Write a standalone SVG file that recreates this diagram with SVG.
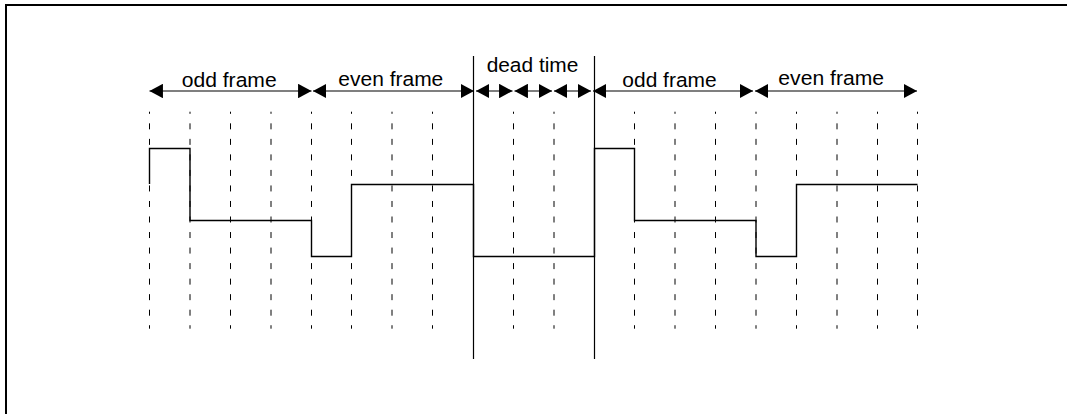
<svg xmlns="http://www.w3.org/2000/svg" width="1067" height="414" viewBox="0 0 1067 414">
<defs>
<marker id="ah" viewBox="0 0 13 14" refX="13" refY="7" markerWidth="13.5" markerHeight="14.5" markerUnits="userSpaceOnUse" orient="auto-start-reverse">
<path d="M0,0 L13,7 L0,14 Z" fill="#000"/>
</marker>
</defs>
<style>
.frame{fill:none;stroke:#000;stroke-width:2}
.grid{stroke:#000;stroke-width:1;stroke-dasharray:6 9.53;stroke-dashoffset:3.9}
.solid{stroke:#000;stroke-width:1.2}
.wave{fill:none;stroke:#000;stroke-width:1.4}
.arr{stroke:#000;stroke-width:1.2;marker-start:url(#ah);marker-end:url(#ah)}
.lbl{font-family:"Liberation Sans",Arial,sans-serif;font-size:20.5px;fill:#000;text-anchor:middle}
</style>
<rect x="0" y="0" width="1067" height="414" fill="#fff"/>
<path class="frame" d="M6,414 L6,5 L1067,5"/>
<g id="grid">
<line class="grid" x1="149.5" y1="111.7" x2="149.5" y2="328.7"/>
<line class="grid" x1="190" y1="111.7" x2="190" y2="328.7"/>
<line class="grid" x1="230.5" y1="111.7" x2="230.5" y2="328.7"/>
<line class="grid" x1="271" y1="111.7" x2="271" y2="328.7"/>
<line class="grid" x1="311.5" y1="111.7" x2="311.5" y2="328.7"/>
<line class="grid" x1="351.5" y1="111.7" x2="351.5" y2="328.7"/>
<line class="grid" x1="392" y1="111.7" x2="392" y2="328.7"/>
<line class="grid" x1="432.5" y1="111.7" x2="432.5" y2="328.7"/>
<line class="grid" x1="513.5" y1="111.7" x2="513.5" y2="328.7"/>
<line class="grid" x1="554" y1="111.7" x2="554" y2="328.7"/>
<line class="grid" x1="634.5" y1="111.7" x2="634.5" y2="328.7"/>
<line class="grid" x1="675" y1="111.7" x2="675" y2="328.7"/>
<line class="grid" x1="715.5" y1="111.7" x2="715.5" y2="328.7"/>
<line class="grid" x1="756" y1="111.7" x2="756" y2="328.7"/>
<line class="grid" x1="796.5" y1="111.7" x2="796.5" y2="328.7"/>
<line class="grid" x1="837" y1="111.7" x2="837" y2="328.7"/>
<line class="grid" x1="877.5" y1="111.7" x2="877.5" y2="328.7"/>
<line class="grid" x1="917.5" y1="111.7" x2="917.5" y2="328.7"/>
</g>
<g id="deadtime-bounds">
<line class="solid" x1="473.5" y1="56" x2="473.5" y2="359"/>
<line class="solid" x1="594.5" y1="56" x2="594.5" y2="359"/>
</g>
<g id="waveform">
<path class="wave" d="M149.5,184 V148.5 H190 V220.5 H311.5 V256.5 H351.5 V184.5 H473.5 V256.5 H594.5 V148.5 H634.5 V220.5 H756 V256.5 H796.5 V184.5 H917.5"/>
</g>
<g id="connectors">
<line class="arr" x1="149.5" y1="91" x2="311.5" y2="91"/>
<line class="arr" x1="313" y1="91" x2="474" y2="91"/>
<line class="arr" x1="476" y1="91" x2="512.5" y2="91"/>
<line class="arr" x1="514.5" y1="91" x2="552" y2="91"/>
<line class="arr" x1="554" y1="91" x2="591" y2="91"/>
<line class="arr" x1="593" y1="91" x2="753" y2="91"/>
<line class="arr" x1="755" y1="91" x2="917" y2="91"/>
</g>
<g id="labels">
<text class="lbl" x="229.2" y="86.7" textLength="95" lengthAdjust="spacingAndGlyphs">odd frame</text>
<text class="lbl" x="390.8" y="85.7" textLength="105" lengthAdjust="spacingAndGlyphs">even frame</text>
<text class="lbl" x="532.5" y="71.7" textLength="91.7" lengthAdjust="spacingAndGlyphs">dead time</text>
<text class="lbl" x="669.5" y="86.7" textLength="94.3" lengthAdjust="spacingAndGlyphs">odd frame</text>
<text class="lbl" x="831.2" y="85.3" textLength="105.7" lengthAdjust="spacingAndGlyphs">even frame</text>
</g>
</svg>
